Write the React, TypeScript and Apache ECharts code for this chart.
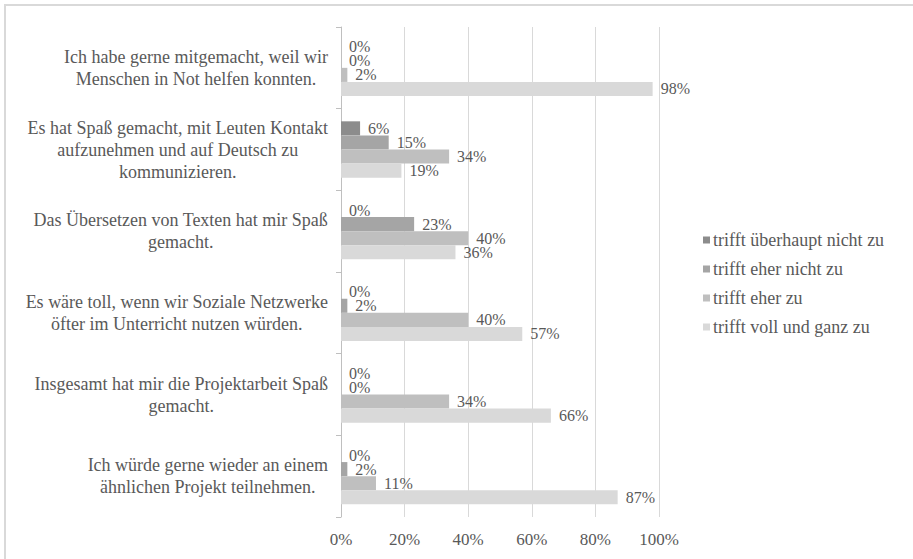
import React, { useEffect, useRef } from "react";
import * as echarts from "echarts";

const categories = [
  "Ich habe gerne mitgemacht, weil wir\nMenschen in Not helfen konnten.",
  "Es hat Spaß gemacht, mit Leuten Kontakt\naufzunehmen und auf Deutsch zu\nkommunizieren.",
  "Das Übersetzen von Texten hat mir Spaß\ngemacht.",
  "Es wäre toll, wenn wir Soziale Netzwerke\nöfter im Unterricht nutzen würden.",
  "Insgesamt hat mir die Projektarbeit Spaß\ngemacht.",
  "Ich würde gerne wieder an einem\nähnlichen Projekt teilnehmen.",
];

const seriesNames = [
  "trifft überhaupt nicht zu",
  "trifft eher nicht zu",
  "trifft eher zu",
  "trifft voll und ganz zu",
];

const ueberhauptNicht = [0, 6, 0, 0, 0, 0];
const eherNicht = [0, 15, 23, 2, 0, 2];
const eherZu = [2, 34, 40, 40, 34, 11];
const vollUndGanz = [98, 19, 36, 57, 66, 87];

const seriesValues = [ueberhauptNicht, eherNicht, eherZu, vollUndGanz];
const seriesColors = ["#8c8c8c", "#a5a5a5", "#bfbfbf", "#d9d9d9"];

const xTicks = [0, 20, 40, 60, 80, 100];

const FONT = "'Liberation Serif', 'Times New Roman', serif";
const TEXT = "#595959";

export default function App() {
  const ref = useRef<HTMLDivElement>(null);
  useEffect(() => {
    if (!ref.current) return;
    const chart = echarts.init(ref.current, undefined, { renderer: "svg" });
    chart.setOption({
      animation: false,
      backgroundColor: "#ffffff",
      textStyle: { fontFamily: FONT },
      graphic: [
        {
          type: "rect",
          shape: { x: 5, y: 5, width: 1000, height: 1000 },
          style: { fill: "none", stroke: "#d9d9d9", lineWidth: 2 },
          silent: true,
        },
      ],
      legend: {
        orient: "vertical",
        left: 698,
        top: 226,
        itemWidth: 7,
        itemHeight: 7,
        itemGap: 11,
        icon: "rect",
        data: seriesNames,
        textStyle: { fontFamily: FONT, fontSize: 18, color: TEXT, padding: [0, 0, 0, -2] },
      },
      grid: { left: 341, right: 254, top: 27, bottom: 42, containLabel: false },
      xAxis: {
        type: "value",
        min: 0,
        max: 100,
        interval: 20,
        axisLine: { show: false },
        axisTick: { show: false },
        splitLine: { show: true, lineStyle: { color: "#d9d9d9", width: 1 } },
        axisLabel: {
          fontFamily: FONT,
          fontSize: 17,
          color: TEXT,
          margin: 14,
          formatter: (v: number) => (xTicks.includes(v) ? `${v}%` : ""),
        },
      },
      yAxis: {
        type: "category",
        inverse: true,
        data: categories,
        axisLine: { show: true, lineStyle: { color: "#bfbfbf", width: 1 } },
        axisTick: { show: true, length: 5, lineStyle: { color: "#bfbfbf" } },
        axisLabel: {
          margin: 13,
          formatter: (v: string) => v.split("\n").map((l) => `{c|${l}}`).join("\n"),
          rich: {
            c: {
              align: "center",
              fontFamily: FONT,
              fontSize: 18,
              lineHeight: 22,
              color: TEXT,
            },
          },
        },
      },
      series: seriesNames.map((name, i) => ({
        name,
        type: "bar",
        data: seriesValues[i],
        barGap: "0%",
        barCategoryGap: "31%",
        itemStyle: { color: seriesColors[i] },
        label: {
          show: true,
          position: "right",
          distance: 8,
          formatter: "{c}%",
          fontFamily: FONT,
          fontSize: 16,
          lineHeight: 13,
          color: TEXT,
        },
      })),
    });
    return () => chart.dispose();
  }, []);
  return <div ref={ref} style={{ width: 913, height: 559, position: "fixed", left: 0, top: 0 }} />;
}
